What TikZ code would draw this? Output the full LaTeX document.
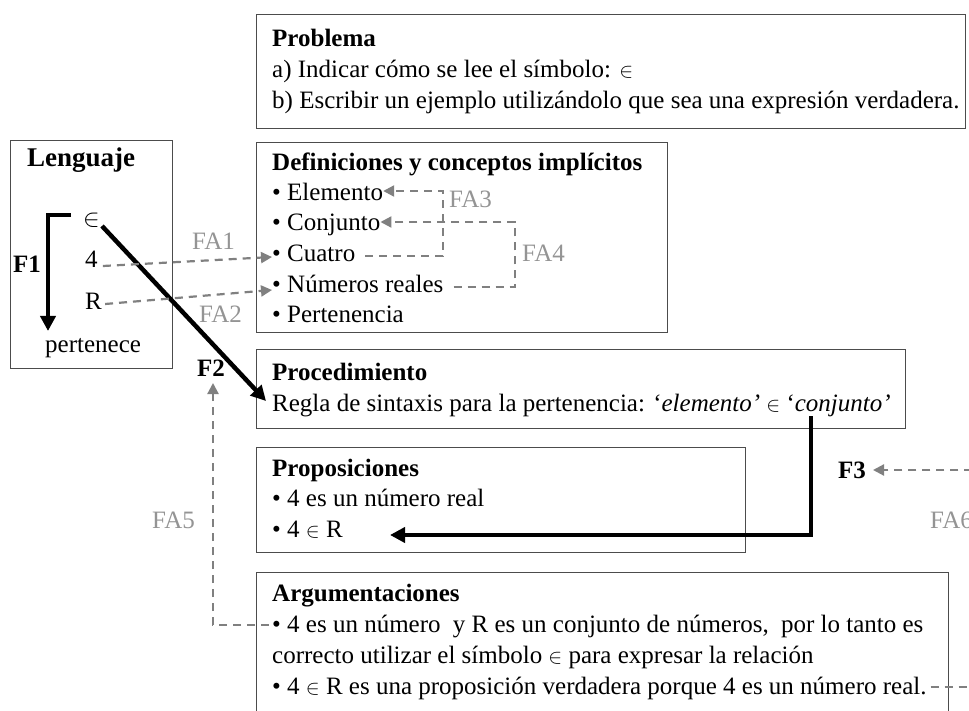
\documentclass[tikz,border=0pt]{standalone}
\usepackage{fontspec}
\setmainfont{Liberation Serif}
\usetikzlibrary{arrows.meta}
\definecolor{linegray}{gray}{0.5}
\definecolor{labgray}{gray}{0.58}
\definecolor{boxline}{gray}{0.3}
\newcommand{\elsym}{{\fontsize{22}{24}\selectfont$\in$}}
\begin{document}
\begin{tikzpicture}[x=1pt,y=-1pt,
  box/.style={draw=boxline, line width=1.2pt, rectangle, inner sep=0pt, anchor=north west},
  txt/.style={inner sep=0pt, anchor=base west, font=\fontsize{25}{29}\selectfont},
  head/.style={txt, font=\fontsize{25}{29}\selectfont\bfseries},
  flab/.style={inner sep=0pt, anchor=base west, font=\fontsize{25}{29}\selectfont\bfseries},
  falab/.style={inner sep=0pt, anchor=base west, text=labgray, font=\fontsize{25}{29}\selectfont},
  farrow/.style={line width=4.5pt, line join=miter, -{Triangle[length=15pt,width=15pt]}},
  faarrow/.style={draw=linegray, line width=2.2pt, dash pattern=on 8pt off 6pt, -{Triangle[length=11pt,width=11pt]}},
]
\useasboundingbox (0,0) rectangle (969,711);
\fill[white] (0,0) rectangle (969,711);

% ---------- boxes ----------
\node[box, minimum width=709pt, minimum height=114pt] (problema) at (256,14) {};
\node[box, minimum width=162pt, minimum height=228pt] (lenguaje) at (10,140) {};
\node[box, minimum width=411pt, minimum height=190pt] (defin) at (256,142) {};
\node[box, minimum width=649pt, minimum height=79pt] (proced) at (256,349) {};
\node[box, minimum width=489pt, minimum height=105pt] (propos) at (256,447) {};
\node[box, minimum width=692pt, minimum height=170pt] (argum) at (256,572) {};

% ---------- Problema ----------
\node[head] (probh) at (272,47) {Problema};
\node[txt] (proba) at (272,78) {a) Indicar cómo se lee el símbolo: \elsym};
\node[txt] (probb) at (272,109) {b) Escribir un ejemplo utilizándolo que sea una expresión verdadera.};

% ---------- Lenguaje ----------
\node[txt, font=\fontsize{27}{30}\selectfont\bfseries] (lengh) at (27,167) {Lenguaje};
\node[txt, font=\fontsize{26}{28}\selectfont] (lsym) at (83,227) {$\in$};
\node[txt] (lfour) at (85,268) {4};
\node[txt] (lreal) at (85,309) {R};
\node[txt] (lpert) at (45,352) {pertenece};
\node[flab] (f1) at (13,273) {F1};

% ---------- Definiciones ----------
\node[head] (defh) at (272,171) {Definiciones y conceptos implícitos};
\node[txt] (delem) at (272,201) {\textbullet\ Elemento};
\node[txt] (dconj) at (272,231) {\textbullet\ Conjunto};
\node[txt] (dcuat) at (272,262) {\textbullet\ Cuatro};
\node[txt] (dnum) at (272,293) {\textbullet\ Números reales};
\node[txt] (dpert) at (272,323) {\textbullet\ Pertenencia};

% ---------- Procedimiento ----------
\node[head] (proch) at (272,380) {Procedimiento};
\node[txt] (procr) at (272,411) {Regla de sintaxis para la pertenencia: ‘\textit{elemento’} \elsym{} ‘\textit{conjunto’}};

% ---------- Proposiciones ----------
\node[head] (proph) at (272,476) {Proposiciones};
\node[txt] (propa) at (272,506) {\textbullet\ 4 es un número real};
\node[txt] (propb) at (272,537) {\textbullet\ 4 \elsym{} R};

% ---------- Argumentaciones ----------
\node[head] (argh) at (272,601) {Argumentaciones};
\node[txt] (arga) at (272,632) {\textbullet\ 4 es un número\hspace{6pt} y R es un conjunto de números,\hspace{6pt} por lo tanto es};
\node[txt] (argb) at (272,663) {correcto utilizar el símbolo \elsym{} para expresar la relación};
\node[txt] (argc) at (272,694) {\textbullet\ 4 \elsym{} R es una proposición verdadera porque 4 es un número real.};

% ---------- labels ----------
\node[flab] (f2) at (197,376) {F2};
\node[flab] (f3) at (838,478) {F3};
\node[falab] (fa1) at (192,250) {FA1};
\node[falab] (fa2) at (199,323) {FA2};
\node[falab] (fa3) at (449,208) {FA3};
\node[falab] (fa4) at (522,262) {FA4};
\node[falab] (fa5) at (152,528) {FA5};
\node[falab] (fa6) at (930,528) {FA6};

% ---------- main flow (thick arrows) ----------
\coordinate (f1start) at (71,215);
\coordinate (f1tip) at (48,331);
\draw[farrow] (f1start) -| (f1tip);

\coordinate (f2start) at (102,226);
\coordinate (f2tip) at (266,401);
\draw[farrow] (f2start) -- (f2tip);

\coordinate (f3start) at (811,416);
\coordinate (f3tip) at (390,535);
\draw[farrow] (f3start) |- (f3tip);

% ---------- auxiliary flows (dashed) ----------
\draw[faarrow] (lfour.east |- 0,266) ++(5,0) -- (dcuat.west |- 0,257);
\draw[faarrow] (lreal.east |- 0,304) ++(3,0) -- (dnum.west |- 0,290);

\coordinate (fa3top) at (443,191);
\draw[faarrow] (dcuat.east |- 0,256) ++(10,0) -| (fa3top) -- (delem.east |- 0,191);

\coordinate (fa4top) at (515,222);
\draw[faarrow] (dnum.east |- 0,287) ++(10,0) -| (fa4top) -- (dconj.east |- 0,222);

\coordinate (fa5tip) at (213,383);
\draw[faarrow] (arga.west |- 0,625) ++(-3,0) -| (fa5tip);

\coordinate (fa6corner) at (990,687);
\coordinate (fa6tip) at (873,470);
\draw[faarrow] (argc.east |- 0,687) ++(4,0) -- (fa6corner) |- (fa6tip);
\end{tikzpicture}
\end{document}
